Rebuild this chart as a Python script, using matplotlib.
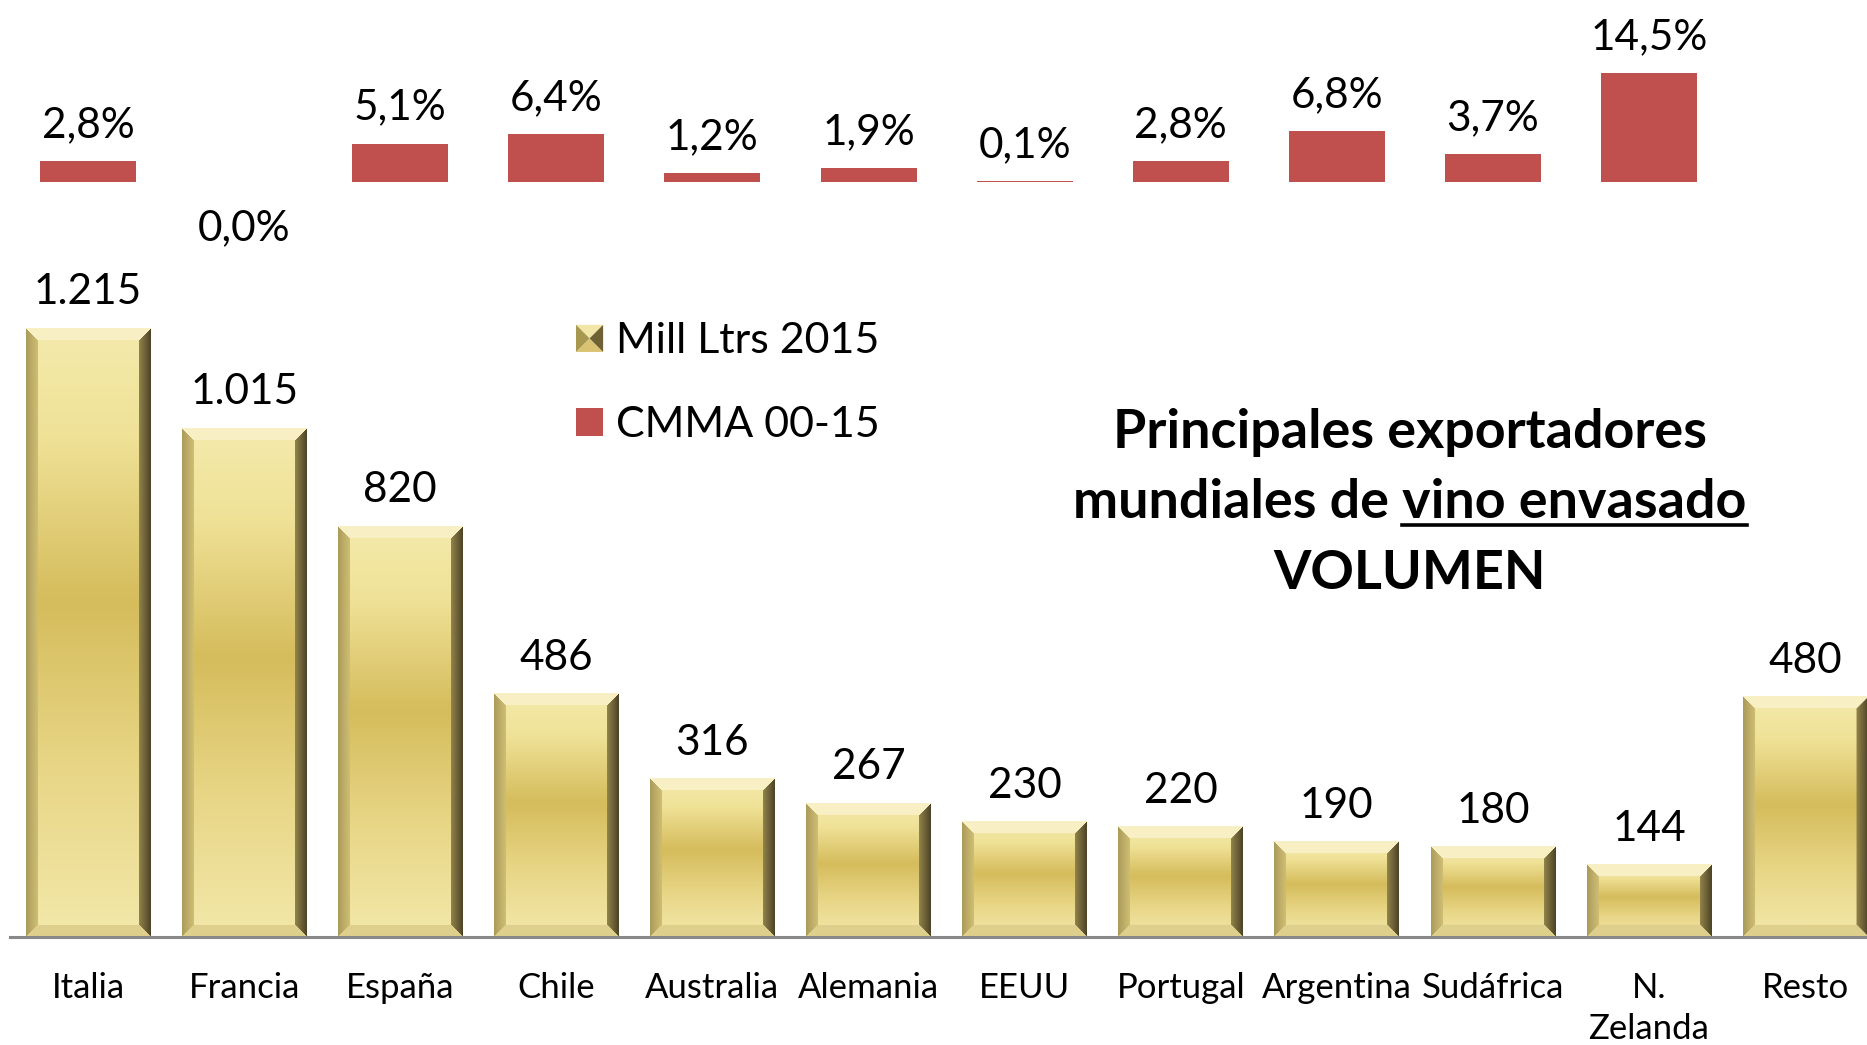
import numpy as np
import matplotlib
matplotlib.use("Agg")
import matplotlib.pyplot as plt
from matplotlib.legend_handler import HandlerBase
from matplotlib.patches import Polygon
from matplotlib.lines import Line2D

# ---------------- data ----------------
categories = ["Italia", "Francia", "España", "Chile", "Australia", "Alemania",
              "EEUU", "Portugal", "Argentina", "Sudáfrica", "N.\nZelanda", "Resto"]
volumes = [1215, 1015, 820, 486, 316, 267, 230, 220, 190, 180, 144, 480]
cmma = [2.8, 0.0, 5.1, 6.4, 1.2, 1.9, 0.1, 2.8, 6.8, 3.7, 14.5, np.nan]
vol_label = "Mill Ltrs 2015"
cmma_label = "CMMA 00-15"
title_line1 = "Principales exportadores"
title_line2a = "mundiales de "
title_line2b = "vino envasado"
title_line3 = "VOLUMEN"

plt.rcParams["font.family"] = ["Lato", "DejaVu Sans"]

W, H, DPI = 1867, 1045, 100
fig = plt.figure(figsize=(W / DPI, H / DPI), dpi=DPI)
fig.patch.set_facecolor("white")

AX_L, AX_BOT_FROM_TOP = 10, 937
ax = fig.add_axes([AX_L / W, (H - AX_BOT_FROM_TOP) / H, (W - AX_L) / W, AX_BOT_FROM_TOP / H])
ax.set_facecolor("none")
x = np.arange(len(categories))
cat_px = 156.1
ax.set_xlim(-0.5, -0.5 + (W - AX_L) / cat_px)
ax.set_ylim(0, AX_BOT_FROM_TOP / 0.501)

gold_bars = ax.bar(x, volumes, width=0.80, color="#E2CD7A", zorder=2, label=vol_label)

# ---- bevelled gold texture for each bar ----
def bevel_image(wpx, hpx, b=12):
    wpx, hpx = max(int(round(wpx)), 3), max(int(round(hpx)), 3)
    st = [0.0, 0.18, 0.45, 0.72, 1.0]
    cols = np.array([[244, 234, 172], [239, 225, 150], [213, 188, 92],
                     [232, 214, 134], [243, 232, 170]]) / 255.0
    t = np.linspace(0, 1, hpx)
    base = np.stack([np.interp(t, st, cols[:, k]) for k in range(3)], axis=1)
    img = np.repeat(base[:, None, :], wpx, axis=1)
    yy, xx = np.mgrid[0:hpx, 0:wpx]
    d = np.stack([yy, hpx - 1 - yy, xx, wpx - 1 - xx]).astype(float)
    region = np.argmin(d, axis=0)
    dmin = np.min(d, axis=0)
    inb = dmin < b
    f = (dmin / b)[..., None]
    top = np.array([248, 240, 196]) / 255.0
    bot = np.array([222, 208, 140]) / 255.0
    left_in = np.array([208, 192, 116]) / 255.0
    left_out = np.array([172, 156, 92]) / 255.0
    right_in = np.array([150, 135, 76]) / 255.0
    right_out = np.array([78, 69, 40]) / 255.0
    m = inb & (region == 0)
    img[m] = top
    m = inb & (region == 1)
    img[m] = bot
    m = inb & (region == 2)
    img[m] = (left_out + (left_in - left_out) * f)[m]
    m = inb & (region == 3)
    img[m] = (right_out + (right_in - right_out) * f)[m]
    return img

fig.canvas.draw()
for bar in gold_bars:
    x0, w, h = bar.get_x(), bar.get_width(), bar.get_height()
    p0 = ax.transData.transform((x0, 0))
    p1 = ax.transData.transform((x0 + w, h))
    img = bevel_image(p1[0] - p0[0], p1[1] - p0[1])
    ax.imshow(img, extent=(x0, x0 + w, 0, h), aspect="auto", zorder=3,
              interpolation="bilinear")
ax.set_xlim(-0.5, -0.5 + (W - AX_L) / cat_px)
ax.set_ylim(0, AX_BOT_FROM_TOP / 0.501)

for xi, v in zip(x, volumes):
    ax.annotate(f"{v:,}".replace(",", "."), (xi, v), xytext=(0, 24),
                textcoords="offset pixels", ha="center", va="baseline",
                fontsize=30.5, color="black", zorder=5)

# ---- red CMMA bars on a twin axis ----
ax2 = ax.twinx()
px_per_pct = 7.55
zero_px = AX_BOT_FROM_TOP - 182.2
ax2.set_ylim(-zero_px / px_per_pct, 182.2 / px_per_pct)
red_bars = ax2.bar(x, cmma, width=0.615, color="#C0504D", zorder=2, label=cmma_label)
for xi, v in zip(x, cmma):
    if np.isnan(v):
        continue
    txt = f"{v:.1f}".replace(".", ",") + "%"
    if v > 0:
        ax2.annotate(txt, (xi, v), xytext=(0, 24), textcoords="offset pixels",
                     ha="center", va="baseline", fontsize=30.5, color="black")
    else:
        ax2.annotate(txt, (xi, v), xytext=(0, -58), textcoords="offset pixels",
                     ha="center", va="baseline", fontsize=30.5, color="black")

for a in (ax, ax2):
    for s in ("top", "right", "left"):
        a.spines[s].set_visible(False)
    a.set_yticks([])
ax2.spines["bottom"].set_visible(False)
ax.spines["bottom"].set_color("#888888")
ax.spines["bottom"].set_linewidth(2.2)
ax.spines["bottom"].set_zorder(4)
ax.set_xticks(x)
ax.set_xticklabels(categories, fontsize=25, linespacing=1.34)
ax.tick_params(axis="x", length=0, pad=25)
ax2.tick_params(axis="x", length=0)

# ---- legend ----
class BevelHandler(HandlerBase):
    def create_artists(self, legend, orig_handle, xdescent, ydescent, width,
                       height, fontsize, trans):
        s = min(width, height)
        x0, y0 = -xdescent, -ydescent
        cx, cy = x0 + s / 2, y0 + s / 2
        tl, tr = (x0, y0 + s), (x0 + s, y0 + s)
        bl, br = (x0, y0), (x0 + s, y0)
        parts = [
            ([tl, tr, (cx, cy)], "#F2E6A6"),
            ([bl, br, (cx, cy)], "#D9C272"),
            ([tl, bl, (cx, cy)], "#A8974F"),
            ([tr, br, (cx, cy)], "#6E6234"),
        ]
        arts = []
        for pts, c in parts:
            p = Polygon(pts, closed=True, facecolor=c, edgecolor="none", transform=trans)
            arts.append(p)
        return arts

fs_leg = 31
leg = fig.legend([gold_bars, red_bars], [vol_label, cmma_label],
                 handler_map={gold_bars: BevelHandler()},
                 loc="upper left", bbox_to_anchor=(576 / W, 1 - 322 / H),
                 frameon=False, fontsize=fs_leg, borderpad=0, borderaxespad=0,
                 handlelength=0.63, handleheight=0.63, handletextpad=0.3,
                 labelspacing=1.07)

# ---- title ----
cx_t = 1410
tfs = 38.8
fig.text(cx_t / W, 1 - 448 / H, title_line1, ha="center", va="baseline",
         fontsize=tfs, fontweight="bold")
full2 = title_line2a + title_line2b
t2 = fig.text(cx_t / W, 1 - 518 / H, full2, ha="center", va="baseline",
              fontsize=tfs, fontweight="bold")
fig.text(cx_t / W, 1 - 589 / H, title_line3, ha="center", va="baseline",
         fontsize=tfs, fontweight="bold")
r = fig.canvas.get_renderer()
wfull = t2.get_window_extent(r).width
tmpb = fig.text(0, 0, title_line2b, fontsize=tfs, fontweight="bold")
wb = tmpb.get_window_extent(r).width
tmpb.remove()
ux0 = cx_t + wfull / 2 - wb
ux1 = cx_t + wfull / 2
uy = 1 - 525 / H
fig.add_artist(Line2D([ux0 / W, ux1 / W], [uy, uy], transform=fig.transFigure,
                      color="black", linewidth=2.6))

fig.savefig("out.png", dpi=DPI)
